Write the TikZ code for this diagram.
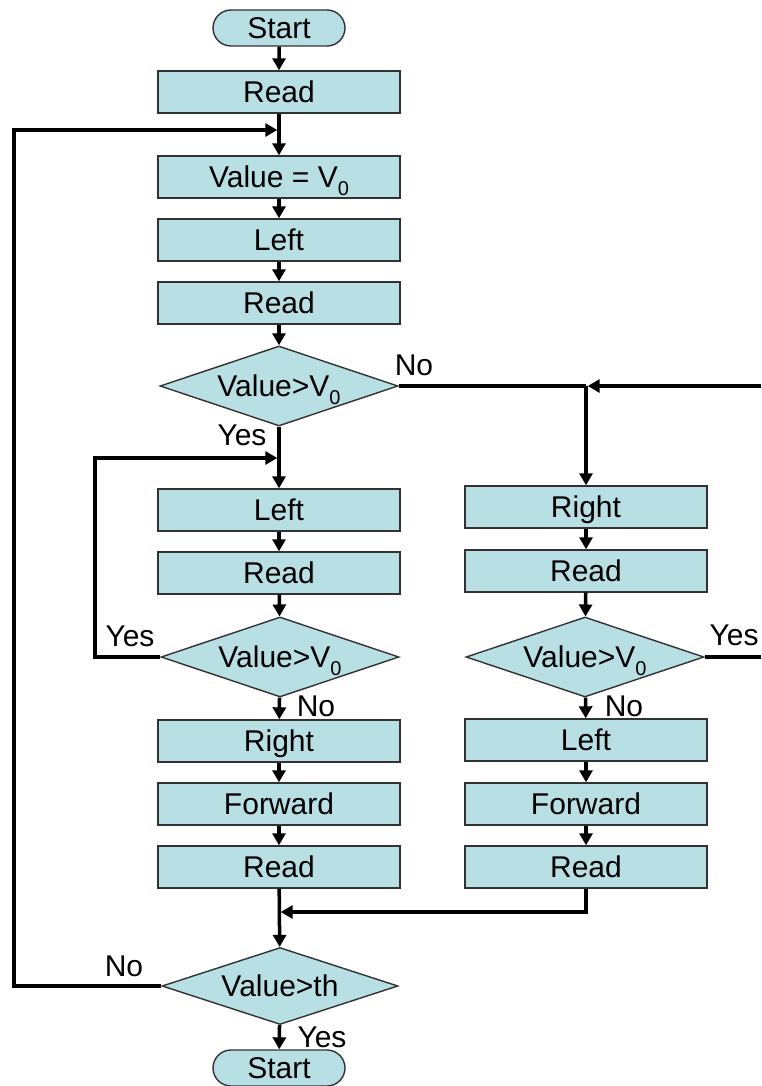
\documentclass[tikz,border=0pt]{standalone}
\usepackage{fontspec}
\setmainfont{Liberation Sans}
\usetikzlibrary{shapes.geometric,shapes.misc,arrows.meta}
\definecolor{boxfill}{RGB}{184,223,227}
\definecolor{boxline}{RGB}{50,50,50}
\newcommand\lowsub[1]{\raisebox{-8pt}{\fontsize{20}{20}\selectfont #1}}
\begin{document}
\begin{tikzpicture}[x=1pt,y=-1pt,
  every node/.style={font=\fontsize{30}{32}\selectfont, inner sep=0pt},
  shaped/.style={draw=boxline, line width=1.4pt, fill=boxfill,
                 text height=21.5pt, text depth=0pt},
  proc/.style={shaped, rectangle, minimum width=242pt, minimum height=42pt},
  term/.style={shaped, rounded rectangle, minimum width=132pt, minimum height=36pt},
  decision/.style={shaped, diamond, aspect=3, minimum width=238pt, minimum height=80pt},
  flow/.style={line width=3.5pt, -{Triangle[length=12pt,width=13pt]}},
  link/.style={line width=3.5pt}]
\useasboundingbox (0,0) rectangle (761,1086);

% main column
\node[term]     (start)  at (279,28)   {Start};
\node[proc]     (read1)  at (279,92)   {Read};
\node[proc]     (setv)   at (279,177)  {Value = V\lowsub{0}};
\node[proc]     (left1)  at (279,240)  {Left};
\node[proc]     (read2)  at (279,303)  {Read};
\node[decision] (d1)     at (279,386)  {Value>V\lowsub{0}};

% left branch
\node[proc]     (left2)  at (279,510)  {Left};
\node[proc]     (read3)  at (279,573)  {Read};
\node[decision] (d2)     at (280,657)  {Value>V\lowsub{0}};
\node[proc]     (right1) at (279,741)  {Right};
\node[proc]     (fwd1)   at (279,804)  {Forward};
\node[proc]     (read4)  at (279,867)  {Read};

% right branch
\node[proc]     (right2) at (586,507)  {Right};
\node[proc]     (read5)  at (586,571)  {Read};
\node[decision] (d3)     at (585,657)  {Value>V\lowsub{0}};
\node[proc]     (left3)  at (586,740)  {Left};
\node[proc]     (fwd2)   at (586,804)  {Forward};
\node[proc]     (read6)  at (586,867)  {Read};

% final test
\node[decision, minimum width=236pt, minimum height=77pt] (d4) at (280,986) {Value>th};
\node[term]     (stop)   at (279,1068) {Start};

% junction points
\coordinate (jTop)   at (279,130);
\coordinate (jLoop)  at (279,458);
\coordinate (jRight) at (586,386);
\coordinate (jMerge) at (279,912);
\coordinate (outerL) at (14,130);
\coordinate (innerL) at (95,458);
\coordinate (edgeA)  at (761,386);
\coordinate (edgeB)  at (761,657);

% main flow
\draw[flow] (start) -- (read1);
\draw[flow] (read1) -- (setv);
\draw[flow] (setv) -- (left1);
\draw[flow] (left1) -- (read2);
\draw[flow] (read2) -- (d1);
\draw[flow] (d1) -- (left2);
\draw[flow] (left2) -- (read3);
\draw[flow] (read3) -- (d2);
\draw[flow] (d2) -- (right1);
\draw[flow] (right1) -- (fwd1);
\draw[flow] (fwd1) -- (read4);
\draw[flow] (read4) -- (d4);
\draw[flow] (d4) -- (stop);

% right flow
\draw[link] (d1.east) -- (jRight);
\draw[flow, shorten >=1.7pt] (edgeA) -- (jRight);
\draw[flow] (jRight) -- (right2);
\draw[flow] (right2) -- (read5);
\draw[flow] (read5) -- (d3);
\draw[flow] (d3) -- (left3);
\draw[flow] (left3) -- (fwd2);
\draw[flow] (fwd2) -- (read6);
\draw[flow, shorten >=1.7pt] (read6.south) |- (jMerge);
\draw[link] (d3.east) -- (edgeB);

% loops back
\draw[flow, shorten >=1.7pt] (d2.west) -| (innerL) -- (jLoop);
\draw[flow, shorten >=1.7pt] (d4.west) -| (outerL) -- (jTop);

% branch labels
\node at (414,365)  {No};
\node at (242,435)  {Yes};
\node at (130,636)  {Yes};
\node at (316,706)  {No};
\node at (734,635)  {Yes};
\node at (624,706)  {No};
\node at (124,966)  {No};
\node at (322,1037) {Yes};
\end{tikzpicture}
\end{document}
